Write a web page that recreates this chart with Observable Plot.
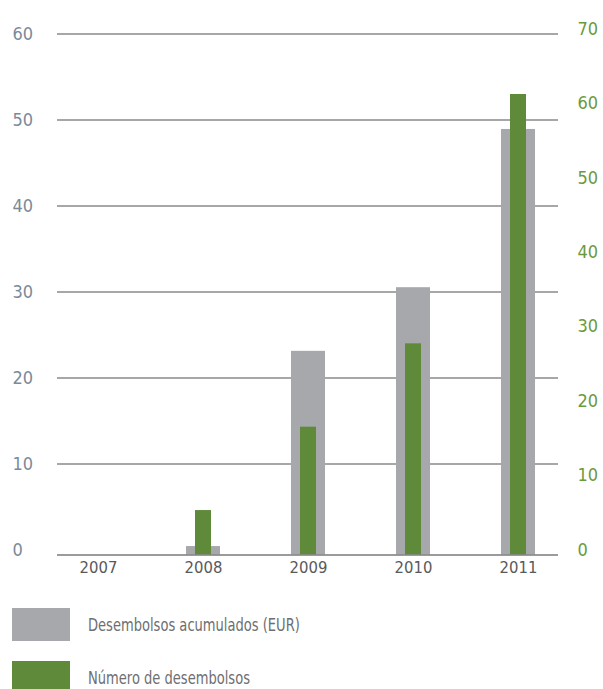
<!DOCTYPE html>
<html>
<head>
<meta charset="utf-8">
<script src="https://cdn.jsdelivr.net/npm/d3@7"></script>
<script src="https://cdn.jsdelivr.net/npm/@observablehq/plot@0.6"></script>
<style>
  body { margin: 0; background: #fff; font-family: "Liberation Sans Narrow", "DejaVu Sans Condensed", "Roboto", sans-serif; }
  #chart { width: 603px; }
  .legend { position: relative; width: 603px; height: 89px; }
  .row { position: absolute; left: 12px; display: flex; align-items: center; }
  .sw { width: 58px; height: 33px; }
  .lbl { margin-left: 18px; font-size: 17.5px; color: #6d6e71; display: inline-block; transform: scaleX(0.83); transform-origin: left center; white-space: nowrap; }
</style>
</head>
<body>
<div id="chart"></div>
<script>
const years = ["2007", "2008", "2009", "2010", "2011"];
const acumulados = [0, 0.4, 23.1, 30.5, 48.9];      // left axis (EUR, millions)
const numero = [0, 5.3, 16.5, 27.7, 61.2];          // right axis (count)
const leftTicks = [0, 10, 20, 30, 40, 50, 60];
const rightTicks = [0, 10, 20, 30, 40, 50, 60, 70];
const seriesNames = ["Desembolsos acumulados (EUR)", "Número de desembolsos"];
const colors = ["#a7a8ac", "#5e8a3a"];

// right-axis units converted into left-axis units
const k = 7.443 / 8.6;

const grayData = years.map((y, i) => ({year: y, v: acumulados[i]})).filter(d => d.v > 0);
const greenData = years.map((y, i) => ({year: y, v: numero[i] * k})).filter(d => d.v > 0);

const W = 603, H = 600;
const plot = Plot.plot({
  width: W,
  height: H,
  marginLeft: 57,
  marginRight: 45,
  marginTop: 0,
  marginBottom: 50.5,
  style: {fontFamily: '"Liberation Sans Narrow", "DejaVu Sans Condensed", sans-serif', background: "#fff", overflow: "visible"},
  x: {domain: years, type: "band", paddingInner: 0.678, paddingOuter: 0.213, axis: null},
  y: {domain: [0, 60], range: [549.5, 33.5], axis: null},
  marks: [
    Plot.ruleY(leftTicks.filter(d => d > 0), {stroke: "#8a8a8a", strokeWidth: 1.3}),
    Plot.barY(grayData, {x: "year", y: "v", fill: colors[0], insetBottom: -5}),
    Plot.barY(greenData, {x: "year", y: "v", fill: colors[1], insetLeft: 9, insetRight: 9, insetBottom: -5}),
    Plot.ruleY([0], {dy: 5, stroke: "#7a7a7a", strokeWidth: 1.5}),
    Plot.text(leftTicks, {y: d => d, frameAnchor: "left", dx: -45, textAnchor: "start", fill: "#7b8a98", fontSize: 18}),
    Plot.text(rightTicks, {y: d => d * k, frameAnchor: "right", dx: 19, textAnchor: "start", fill: "#6a9a3c", fontSize: 18}),
    Plot.text(years, {x: d => d, frameAnchor: "bottom", dy: 23, fill: "#58595b", fontSize: 16.5})
  ]
});
document.getElementById("chart").appendChild(plot);

const legend = document.createElement("div");
legend.className = "legend";
const tops = [8, 61];
seriesNames.forEach((name, i) => {
  const row = document.createElement("div");
  row.className = "row";
  row.style.top = tops[i] + "px";
  const sw = document.createElement("div");
  sw.className = "sw";
  sw.style.background = colors[i];
  const lbl = document.createElement("span");
  lbl.className = "lbl";
  lbl.textContent = name;
  row.appendChild(sw);
  row.appendChild(lbl);
  legend.appendChild(row);
});
document.body.appendChild(legend);
</script>
</body>
</html>
